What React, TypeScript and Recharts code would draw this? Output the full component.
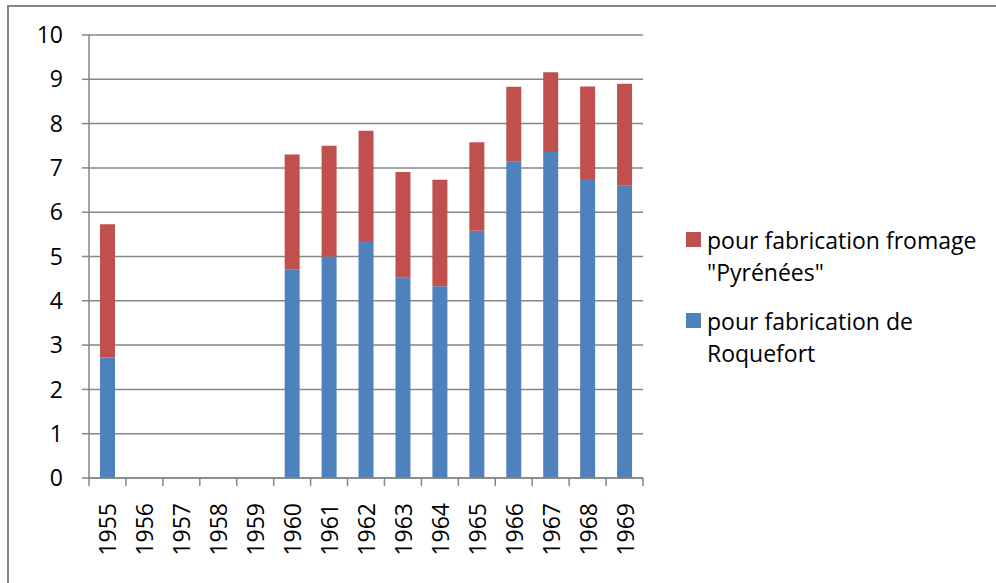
import { Bar, BarChart, CartesianGrid, Legend, XAxis, YAxis } from "recharts"

const years = ["1955", "1956", "1957", "1958", "1959", "1960", "1961", "1962", "1963", "1964", "1965", "1966", "1967", "1968", "1969"]
const roquefort = [2.72, null, null, null, null, 4.71, 5.0, 5.35, 4.52, 4.33, 5.58, 7.14, 7.36, 6.75, 6.61]
const pyrenees = [3.01, null, null, null, null, 2.59, 2.5, 2.49, 2.39, 2.4, 2.0, 1.69, 1.8, 2.09, 2.29]
const yTicks = [0, 1, 2, 3, 4, 5, 6, 7, 8, 9, 10]

const labelRoquefort = ["pour fabrication de", "Roquefort"]
const labelPyrenees = ["pour fabrication fromage", "\"Pyrénées\""]

const BLUE = "#4F81BD"
const RED = "#C0504D"
const GRAY = "#868686"
const FONT = "'Open Sans', sans-serif"

const W = 996
const H = 583
const PLOT_LEFT = 89
const PLOT_RIGHT = 643
const BAND = (PLOT_RIGHT - PLOT_LEFT) / years.length

const data = years.map((y, i) => ({
  year: y,
  roquefort: roquefort[i],
  pyrenees: pyrenees[i],
}))

function YearTick(props: any) {
  const { x, y, payload, index } = props
  const axisY = y - 25
  const left = x - BAND / 2
  return (
    <g>
      <line x1={left} x2={left} y1={axisY} y2={axisY + 8} stroke={GRAY} strokeWidth={1.5} />
      {index === years.length - 1 && (
        <line x1={x + BAND / 2} x2={x + BAND / 2} y1={axisY} y2={axisY + 8} stroke={GRAY} strokeWidth={1.5} />
      )}
      <text
        x={x}
        y={y}
        transform={`rotate(-90, ${x}, ${y})`}
        textAnchor="end"
        dominantBaseline="central"
        fontSize={23}
        fontFamily={FONT}
        fill="#000"
      >
        {payload.value}
      </text>
    </g>
  )
}

function LegendBox() {
  const items = [
    { color: RED, lines: labelPyrenees },
    { color: BLUE, lines: labelRoquefort },
  ]
  return (
    <div style={{ fontFamily: FONT, fontSize: 23, lineHeight: "32px", color: "#000" }}>
      {items.map((it) => (
        <div key={it.color} style={{ position: "relative", paddingLeft: 21, marginBottom: 17 }}>
          <span
            style={{
              position: "absolute",
              left: 0,
              top: 8,
              width: 15,
              height: 15,
              background: it.color,
            }}
          />
          {it.lines.map((l) => (
            <div key={l} style={{ whiteSpace: "nowrap" }}>{l}</div>
          ))}
        </div>
      ))}
    </div>
  )
}

export default function App() {
  return (
    <div style={{ position: "fixed", inset: 0, overflow: "hidden", background: "#fff" }}>
      <div
        style={{
          position: "absolute",
          left: 7,
          top: 5,
          width: W + 20,
          height: H + 20,
          borderTop: `2px solid ${GRAY}`,
          borderLeft: `2px solid ${GRAY}`,
        }}
      />
      <div style={{ position: "absolute", left: 0, top: 0 }}>
        <BarChart
          width={W}
          height={H}
          data={data}
          margin={{ top: 35, right: W - PLOT_RIGHT, left: 0, bottom: 35 }}
          barSize={15}
        >
          <CartesianGrid vertical={false} stroke={GRAY} strokeWidth={1.5} />
          <XAxis
            dataKey="year"
            height={70}
            tickLine={false}
            tickSize={8}
            tickMargin={17}
            axisLine={{ stroke: GRAY, strokeWidth: 1.5 }}
            interval={0}
            tick={<YearTick />}
          />
          <YAxis
            width={PLOT_LEFT}
            domain={[0, 10]}
            ticks={yTicks}
            interval={0}
            tickSize={7}
            tickMargin={19}
            tickLine={{ stroke: GRAY, strokeWidth: 1.5 }}
            axisLine={{ stroke: GRAY, strokeWidth: 1.5 }}
            tick={{ fontSize: 23, fontFamily: FONT, fill: "#000" }}
          />
          <Legend
            layout="vertical"
            align="center"
            verticalAlign="middle"
            content={<LegendBox />}
            wrapperStyle={{ left: 686, top: 224, width: 300, height: "auto" }}
          />
          <Bar dataKey="roquefort" stackId="a" fill={BLUE} isAnimationActive={false} />
          <Bar dataKey="pyrenees" stackId="a" fill={RED} isAnimationActive={false} />
        </BarChart>
      </div>
    </div>
  )
}
